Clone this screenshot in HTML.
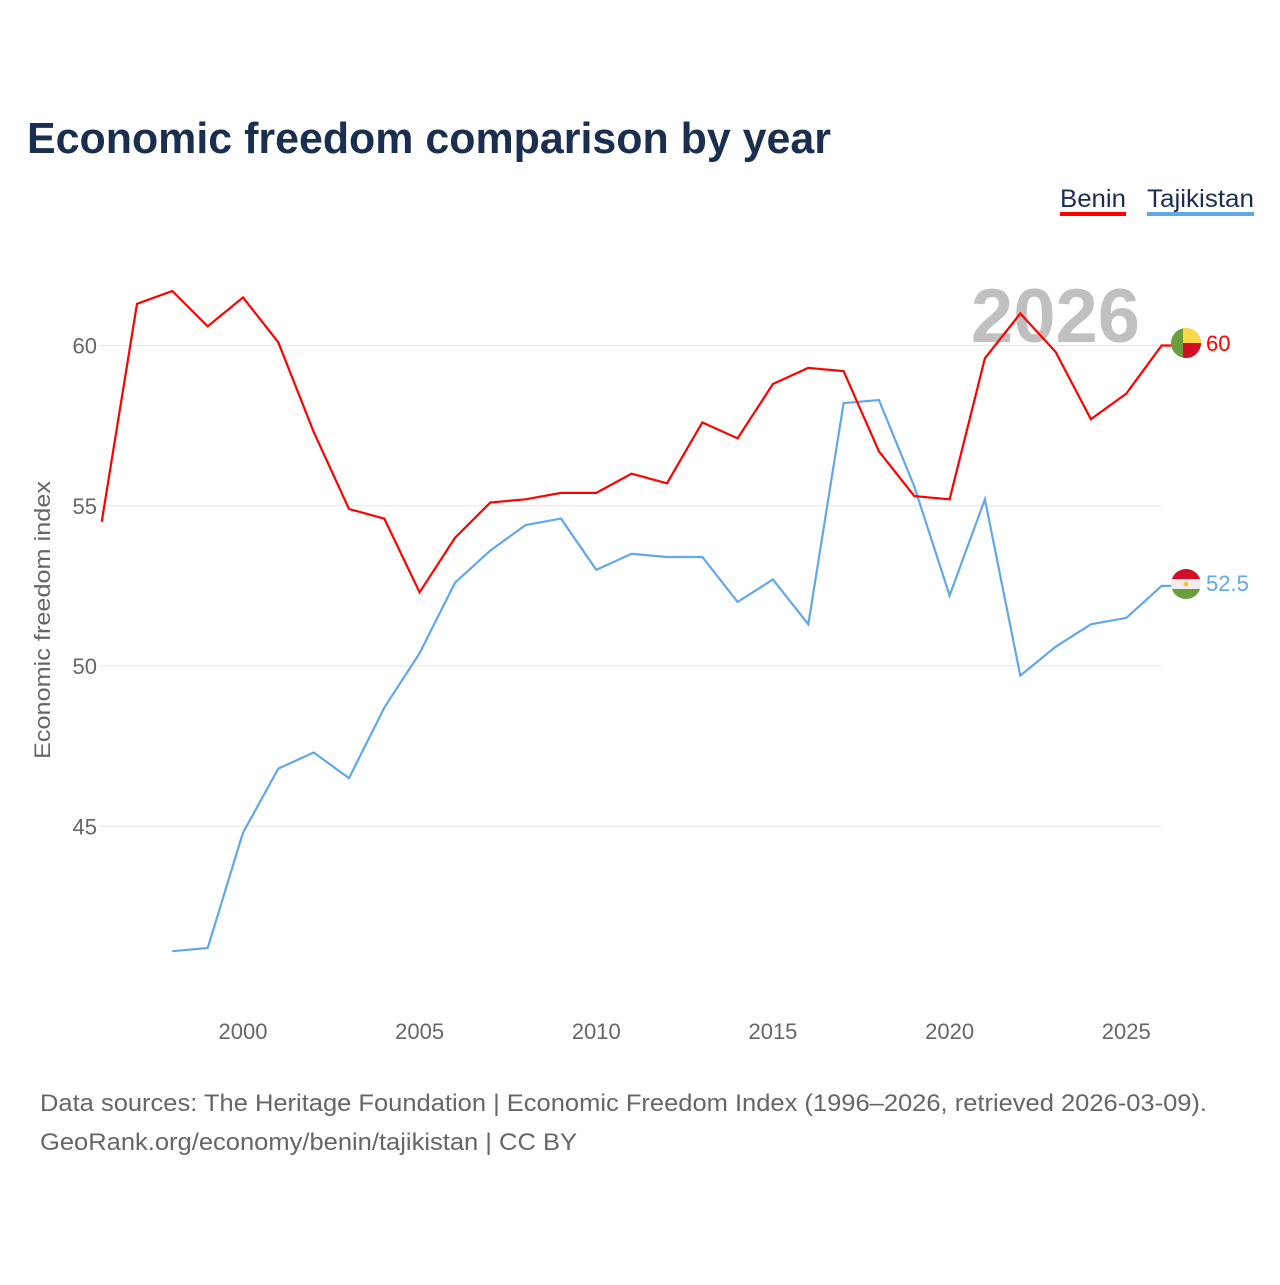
<!DOCTYPE html>
<html><head><meta charset="utf-8"><style>
body{margin:0;background:#fff;font-family:"Liberation Sans",sans-serif}
</style></head><body>
<svg id="chart" width="1280" height="1280" xmlns="http://www.w3.org/2000/svg" style="font-family:'Liberation Sans',sans-serif">
<text x="27" y="153" font-size="44" font-weight="bold" fill="#1a2e4f" textLength="804" lengthAdjust="spacingAndGlyphs">Economic freedom comparison by year</text>
<g><text x="1060" y="207" font-size="25" fill="#1a2e4f" textLength="66" lengthAdjust="spacingAndGlyphs">Benin</text><rect x="1060" y="212" width="66" height="4" fill="#ff0000"/></g>
<g><text x="1147" y="207" font-size="25" fill="#1a2e4f" textLength="107" lengthAdjust="spacingAndGlyphs">Tajikistan</text><rect x="1147" y="212" width="107" height="4" fill="#62a8e8"/></g>
<text x="1140" y="342" font-size="76" font-weight="bold" fill="#c0c0c0" text-anchor="end">2026</text>
<text transform="translate(50,620) rotate(-90)" font-size="22" fill="#666" text-anchor="middle" textLength="278" lengthAdjust="spacingAndGlyphs">Economic freedom index</text>
<g id="grid"></g><g id="xt"></g><g id="lines"></g>
<g><clipPath id="c1"><circle cx="1186" cy="343" r="15"/></clipPath><g clip-path="url(#c1)"><rect x="1171" y="328" width="30" height="30" fill="#6a9e3c"/><rect x="1183" y="328" width="18" height="15" fill="#fcd848"/><rect x="1183" y="343" width="18" height="15" fill="#d20d25"/></g></g>
<text x="1206" y="351" font-size="22" fill="#ff0000">60</text>
<g><clipPath id="c2"><circle cx="1186" cy="584" r="15"/></clipPath><g clip-path="url(#c2)"><rect x="1171" y="569" width="30" height="10" fill="#d20d25"/><rect x="1171" y="579" width="30" height="10" fill="#eee"/><rect x="1171" y="589" width="30" height="10" fill="#6a9e3c"/><circle cx="1186" cy="584" r="2.5" fill="#f5c842"/></g></g>
<text x="1206" y="591" font-size="22" fill="#62a8e8">52.5</text>
<text x="40" y="1111" font-size="24" fill="#666" textLength="1167" lengthAdjust="spacingAndGlyphs">Data sources: The Heritage Foundation | Economic Freedom Index (1996–2026, retrieved 2026-03-09).</text>
<text x="40" y="1150" font-size="24" fill="#666" textLength="537" lengthAdjust="spacingAndGlyphs">GeoRank.org/economy/benin/tajikistan | CC BY</text>
</svg>
<script>
const years=[1996,1997,1998,1999,2000,2001,2002,2003,2004,2005,2006,2007,2008,2009,2010,2011,2012,2013,2014,2015,2016,2017,2018,2019,2020,2021,2022,2023,2024,2025,2026];
const benin=[54.5,61.3,61.7,60.6,61.5,60.1,57.3,54.9,54.6,52.3,54.0,55.1,55.2,55.4,55.4,56.0,55.7,57.6,57.1,58.8,59.3,59.2,56.7,55.3,55.2,59.6,61.0,59.8,57.7,58.5,60.0];
const tajikistan=[null,null,41.1,41.2,44.8,46.8,47.3,46.5,48.7,50.4,52.6,53.6,54.4,54.6,53.0,53.5,53.4,53.4,52.0,52.7,51.3,58.2,58.3,55.6,52.2,55.2,49.7,50.6,51.3,51.5,52.5];
const yTicks=[45,50,55,60];
const xTicks=[2000,2005,2010,2015,2020,2025];
const NS="http://www.w3.org/2000/svg";
const x=v=>243+(v-2000)*35.33;
const y=v=>666-(v-50)*32.05;
function mk(t,a,p){const e=document.createElementNS(NS,t);for(const k in a)e.setAttribute(k,a[k]);document.getElementById(p).appendChild(e);return e;}
yTicks.forEach(t=>{
const l=mk('line',{x1:100,x2:1161,y1:y(t),y2:y(t),stroke:'#e6e6e6','stroke-width':1},'grid');


const tx=mk('text',{x:97,y:y(t)+8,'font-size':22,fill:'#666','text-anchor':'end'},'grid');
tx.textContent=t;


});
xTicks.forEach(t=>{
const tx=mk('text',{x:x(t),y:1039,'font-size':22,fill:'#666','text-anchor':'middle'},'xt');
tx.textContent=t;


});
function line(vals,color,name){
let d='',last=null;
vals.forEach((v,i)=>{if(v==null)return;d+=(d?'L':'M')+x(years[i]).toFixed(1)+','+y(v).toFixed(1);last=v;});
d+='L'+(x(years[years.length-1])+11).toFixed(1)+','+y(last).toFixed(1);
const p=mk('path',{d:d,fill:'none',stroke:color,'stroke-width':2.2,'stroke-linejoin':'miter'},'lines');


}
line(tajikistan,'#62a8e8','tajikistan-line');
line(benin,'#ff0000','benin-line');
</script>
</body></html>
